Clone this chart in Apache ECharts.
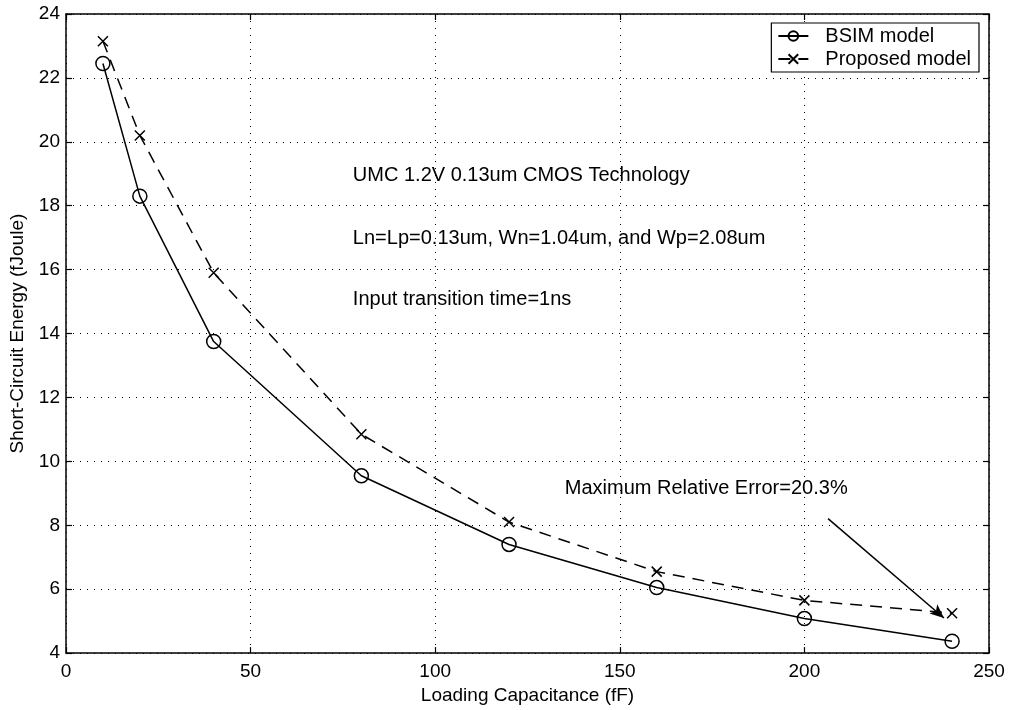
<!DOCTYPE html>
<html>
<head>
<meta charset="utf-8">
<script src="https://cdn.jsdelivr.net/npm/echarts@6/dist/echarts.min.js"></script>
<style>html,body{margin:0;padding:0;background:#fff}#c{width:1013px;height:710px}</style>
</head>
<body>
<div id="c"></div>
<script>
const capacitance = [10, 20, 40, 80, 120, 160, 200, 240];
const bsim = [22.45, 18.3, 13.75, 9.55, 7.4, 6.05, 5.08, 4.37];
const proposed = [23.15, 20.2, 15.9, 10.85, 8.1, 6.55, 5.65, 5.25];
const xTicks = [0, 50, 100, 150, 200, 250];
const yTicks = [4, 6, 8, 10, 12, 14, 16, 18, 20, 22, 24];
const notes = [
  {text: 'UMC 1.2V 0.13um CMOS Technology', x: 77.7, y: 18.95},
  {text: 'Ln=Lp=0.13um, Wn=1.04um, and Wp=2.08um', x: 77.7, y: 16.99},
  {text: 'Input transition time=1ns', x: 77.7, y: 15.06},
  {text: 'Maximum Relative Error=20.3%', x: 135.1, y: 9.14}
];
const arrowFrom = [206.4, 8.21];
const arrowTo = [237.8, 5.1];

const FONT = '"Liberation Sans", Arial, Helvetica, sans-serif';
const chart = echarts.init(document.getElementById('c'), null, {renderer: 'canvas'});
const crossPath = 'path://M0,0L10,10M10,0L0,10';

function axisCommon(showLabel) {
  return {
    axisLine: {show: true, onZero: false, lineStyle: {color: '#000', width: 1.5}},
    axisTick: {show: true, inside: true, length: 6, lineStyle: {color: '#000', width: 1.2}},
    axisLabel: {show: showLabel, color: '#000', fontFamily: FONT, fontSize: 19},
  };
}

const option = {
  backgroundColor: '#fff',
  animation: false,
  grid: {left: 66, right: 24, top: 14, bottom: 53, containLabel: false},
  legend: {
    data: ['BSIM model', 'Proposed model'],
    orient: 'vertical',
    right: 34, top: 23,
    backgroundColor: '#fff',
    borderColor: '#000', borderWidth: 1.2, borderRadius: 0,
    padding: [3, 8, 3, 6],
    itemGap: 3,
    itemWidth: 30, itemHeight: 12,
    textStyle: {color: '#000', fontFamily: FONT, fontSize: 20, padding: [0, 0, 0, 12]}
  },
  xAxis: [
    Object.assign(axisCommon(true), {
      type: 'value', min: 0, max: 250, interval: 50,
      name: 'Loading Capacitance (fF)', nameLocation: 'middle', nameGap: 24,
      nameTextStyle: {color: '#000', fontFamily: FONT, fontSize: 19},
      axisLabel: {color: '#000', fontFamily: FONT, fontSize: 19, margin: 9,
        formatter: v => xTicks.includes(v) ? String(v) : ''},
      splitLine: {show: true, lineStyle: {color: '#000', type: [1, 6], width: 1}}
    }),
    Object.assign(axisCommon(false), {
      type: 'value', min: 0, max: 250, interval: 50, position: 'top',
      splitLine: {show: false}
    })
  ],
  yAxis: [
    Object.assign(axisCommon(true), {
      type: 'value', min: 4, max: 24, interval: 2,
      name: 'Short-Circuit Energy (fJoule)', nameLocation: 'middle', nameGap: 39,
      nameTextStyle: {color: '#000', fontFamily: FONT, fontSize: 19},
      axisLabel: {color: '#000', fontFamily: FONT, fontSize: 19, margin: 6,
        formatter: v => yTicks.includes(v) ? String(v) : ''},
      splitLine: {show: true, lineStyle: {color: '#000', type: [1, 6], width: 1}}
    }),
    Object.assign(axisCommon(false), {
      type: 'value', min: 4, max: 24, interval: 2, position: 'right',
      splitLine: {show: false}
    })
  ],
  series: [
    {
      name: 'BSIM model', type: 'line',
      data: capacitance.map((c, i) => [c, bsim[i]]),
      symbol: 'circle', symbolSize: 14,
      lineStyle: {color: '#000', width: 1.5, type: 'solid'},
      itemStyle: {color: 'rgba(255,255,255,0)', borderColor: '#000', borderWidth: 1.5},
      z: 3
    },
    {
      name: 'Proposed model', type: 'line',
      data: capacitance.map((c, i) => [c, proposed[i]]),
      symbol: crossPath, symbolSize: 10,
      lineStyle: {color: '#000', width: 1.5, type: [12, 8]},
      itemStyle: {color: '#000', borderColor: '#000', borderWidth: 1.5},
      markLine: {
        silent: true,
        symbol: ['none', 'arrow'], symbolSize: [9, 14],
        label: {show: false},
        lineStyle: {color: '#000', width: 1.5, type: 'solid'},
        data: [[{coord: arrowFrom}, {coord: arrowTo}]]
      },
      z: 3
    }
  ]
};
chart.setOption(option);

const graphics = notes.map(n => {
  const p = chart.convertToPixel({xAxisIndex: 0, yAxisIndex: 0}, [n.x, n.y]);
  return {
    type: 'text', x: p[0], y: p[1], z: 10,
    style: {text: n.text, fill: '#000', font: '20px ' + FONT, textVerticalAlign: 'middle', verticalAlign: 'middle', align: 'left'}
  };
});
chart.setOption({graphic: graphics});
</script>
</body>
</html>
